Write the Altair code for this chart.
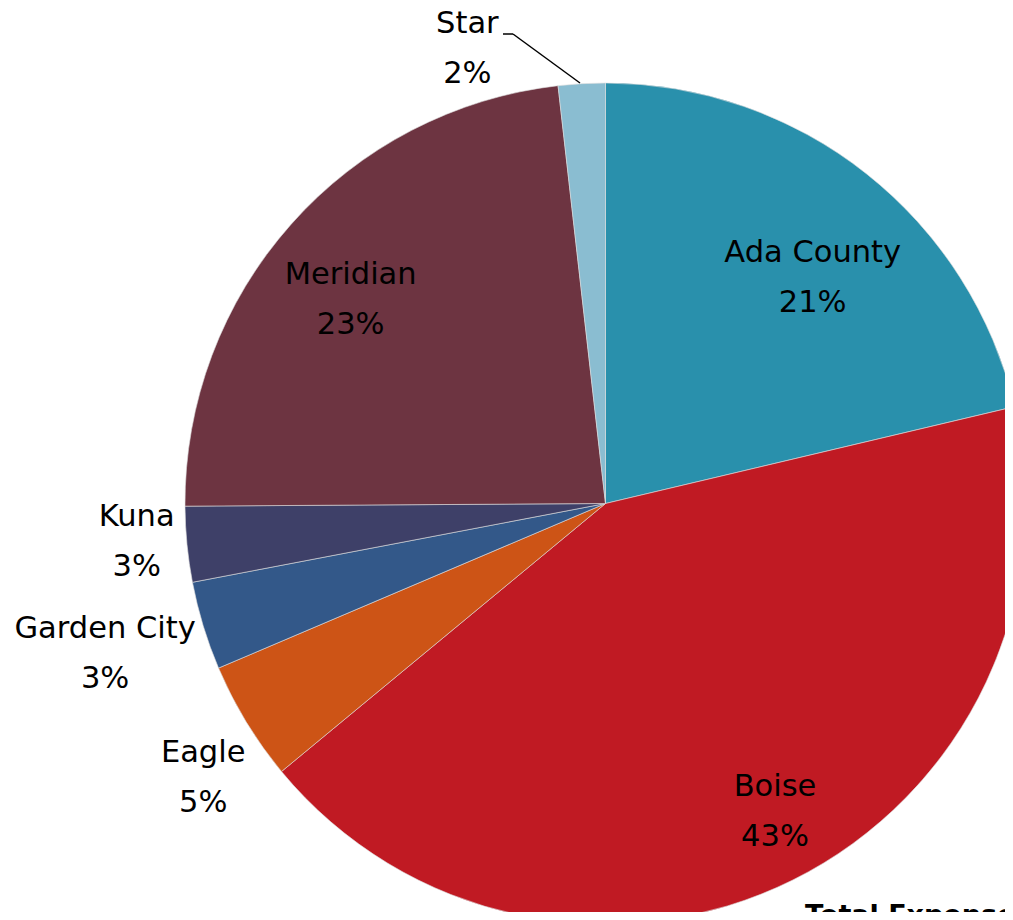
import altair as alt
import pandas as pd

# ---- data ----
names = ["Ada County", "Boise", "Eagle", "Garden City", "Kuna", "Meridian", "Star"]
values = [21.3, 42.7, 4.6, 3.4, 2.9, 23.3, 1.8]
colors = ["#2990AC", "#C01A23", "#CD5416", "#335889", "#3E4068", "#6D3441", "#8ABDD1"]

labels = [f"{n}\n{round(v)}%" for n, v in zip(names, values)]
df = pd.DataFrame({"idx": list(range(len(names))), "name": names, "value": values, "label": labels})

# label placement (radius, dx, dy) -- styling only
label_pos = {
    "Ada County": (305, 18, -11),
    "Boise": (349, 14, -29),
    "Meridian": (326, -11, -12),
    "Kuna": (470, -1, -32),
    "Garden City": (522, -1, -26),
    "Eagle": (485, 12, -3),
    "Star": (462, -112, -18),
}

CX, CY, R = 597.5, 495.5, 420.5

base = alt.Chart(df).encode(
    theta=alt.Theta("value:Q", stack=True),
    order=alt.Order("idx:Q"),
    x=alt.value(CX),
    y=alt.value(CY),
)

arc = base.mark_arc(outerRadius=R, stroke="#dddddd", strokeWidth=0.6).encode(
    color=alt.Color("name:N", scale=alt.Scale(domain=names, range=colors), legend=None)
)

texts = []
for n in names:
    rad, dx, dy = label_pos[n]
    t = base.mark_text(
        radius=rad, dx=dx, dy=dy, lineBreak="\n", font="DejaVu Sans", fontSize=30.5,
        lineHeight=50, color="black", align="center", baseline="middle",
    ).encode(
        text="label:N",
        opacity=alt.condition(alt.datum.name == n, alt.value(1), alt.value(0)),
    )
    texts.append(t)

one = pd.DataFrame({"a": [0]})
leader1 = alt.Chart(one).mark_rule(color="black", strokeWidth=1.5).encode(
    x=alt.value(495), x2=alt.value(505), y=alt.value(26), y2=alt.value(26)
)
leader2 = alt.Chart(one).mark_rule(color="black", strokeWidth=1.5).encode(
    x=alt.value(505), x2=alt.value(572), y=alt.value(26), y2=alt.value(75)
)

total_text = alt.Chart(one).mark_text(
    text="Total Expenses", font="DejaVu Sans", fontWeight="bold", fontSize=27,
    align="left", baseline="top", color="black",
).encode(x=alt.value(797), y=alt.value(895))

chart = alt.layer(arc, *texts, leader1, leader2, total_text).properties(
    width=997, height=904, padding=0, autosize=alt.AutoSizeParams(type="none")
).configure_view(stroke=None)

chart.save("out.html", embed_options={"renderer": "svg", "actions": False})
